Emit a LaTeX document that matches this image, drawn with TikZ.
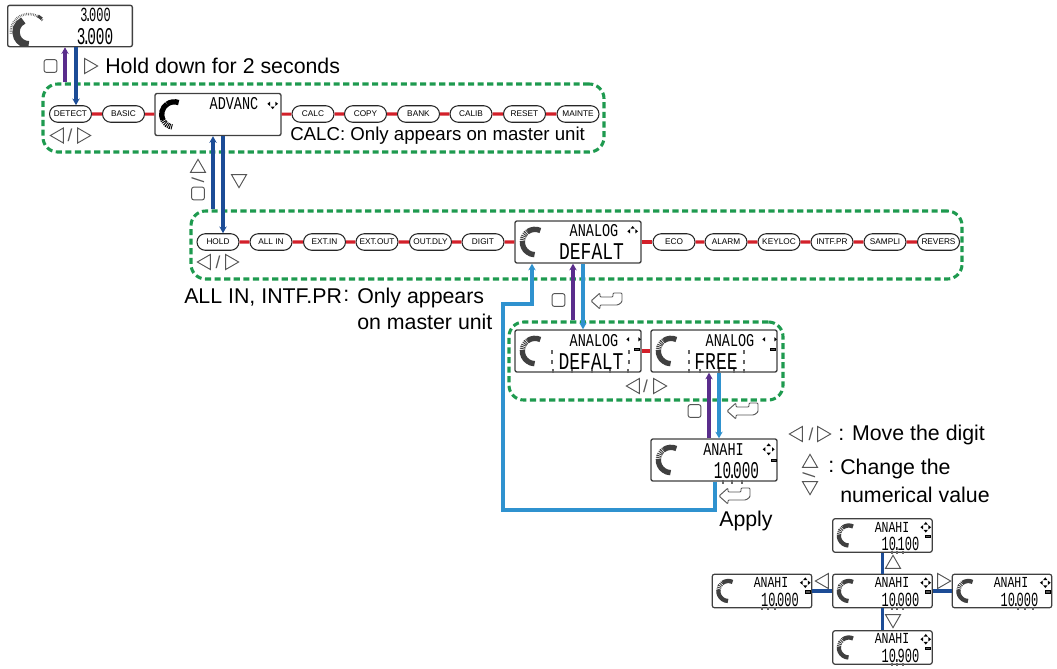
\documentclass[tikz,border=0pt]{standalone}
\usepackage{fontspec}
\setmainfont{Liberation Sans}
\newfontfamily\lcdfont[FakeStretch=0.75]{Liberation Mono}
\newfontfamily\lcdtall[FakeStretch=0.6]{Liberation Mono}
\usetikzlibrary{shapes.geometric, shapes.misc, arrows.meta, calc}
\definecolor{SMC_Green}{HTML}{1E9A4F}
\definecolor{SMC_Red}{HTML}{D3202A}
\definecolor{SMC_Violet}{HTML}{5A2D8C}
\definecolor{SMC_Navy}{HTML}{1C4C96}
\definecolor{SMC_Sky}{HTML}{2F92CF}
\definecolor{SMC_Key}{HTML}{555555}
\newcommand{\lcdp}{\kern-.14em.\kern-.14em}
\newcommand{\lcdarc}[3]{%
    \coordinate (arcc) at ($(path picture bounding box.west)+(#1,0)$);
    \draw[line width=#3] (arcc) ++(65:#2) arc (65:125:#2);
    \draw[line width=#3, dash pattern=on .7pt off .7pt] (arcc) ++(125:#2) arc (125:175:#2);
    \draw[line width=#3] (arcc) ++(175:#2) arc (175:268:#2);}
\newcommand{\navmark}[4]{%
    \foreach \a in {#2} \fill[shift={($(#1.north east)+#4$)}, rotate=\a, xshift=#3] (2pt,0pt) -- (0pt,1.6pt) -- (0pt,-1.6pt) -- cycle;}
\newcommand{\battmark}[2]{\draw[line width=.4pt, fill=SMC_Key] ($(#1.north east)+#2+(-2.5,-1.2)$) rectangle ($(#1.north east)+#2+(2.5,1.2)$);}
\begin{document}
\begin{tikzpicture}[
    x=0.75pt, y=-0.75pt,
    groupbox/.style={draw=SMC_Green, line width=2.3pt, dash pattern=on 4.6pt off 2.6pt, rounded corners=11pt, inner sep=0pt},
    menu/.style={rounded rectangle, draw=black!85, line width=0.8pt, fill=white, minimum width=31.5pt, minimum height=12.4pt, inner sep=0pt, font=\fontsize{6.2}{7}\selectfont},
    lcd/.style={rectangle, draw=black!75, line width=1pt, fill=white, rounded corners=1.5pt, minimum width=94.5pt, minimum height=31.5pt, inner sep=0pt, path picture={\lcdarc{20}{9.5pt}{4pt}}},
    lcdsmall/.style={rectangle, draw=black!75, line width=0.9pt, fill=white, rounded corners=1.5pt, minimum width=74.5pt, minimum height=25pt, inner sep=0pt, path picture={\lcdarc{16}{7.5pt}{3.2pt}}},
    lcdgauge/.style={rectangle, draw=black!75, line width=1pt, fill=white, rounded corners=1.5pt, minimum width=93.5pt, minimum height=31pt, inner sep=0pt, path picture={
        \coordinate (gc) at ($(path picture bounding box.west)+(21,6)$);
        \draw[line width=1.8pt, dash pattern=on .5pt off .8pt, black!60] (gc) ++(40:13.5pt) arc (40:185:13.5pt);
        \draw[line width=2.2pt] (gc) ++(45:14pt) arc (45:60:14pt);
        \draw[line width=5.5pt] (gc) ++(115:9.5pt) arc (115:270:9.5pt);}},
    lcdtop/.style={inner sep=0pt, font=\lcdfont\fontsize{13.5}{14}\selectfont},
    lcdlow/.style={inner sep=0pt, font=\lcdfont\fontsize{18}{19}\selectfont},
    lcdmid/.style={inner sep=0pt, font=\lcdtall\fontsize{18}{19}\selectfont},
    lcdsmtop/.style={inner sep=0pt, font=\lcdfont\fontsize{11.5}{12}\selectfont},
    lcdsmlow/.style={inner sep=0pt, font=\lcdtall\fontsize{15}{16}\selectfont},
    say/.style={anchor=west, inner sep=0pt, font=\fontsize{16}{19}\selectfont},
    saysmall/.style={anchor=west, inner sep=0pt, font=\fontsize{14}{17}\selectfont},
    keybtn/.style={rectangle, draw=SMC_Key, line width=0.7pt, fill=white, rounded corners=1.5pt, minimum size=9.5pt, inner sep=0pt},
    keytri/.style={regular polygon, regular polygon sides=3, draw=SMC_Key, line width=0.7pt, fill=white, minimum size=13pt, inner sep=0pt},
    keyup/.style={keytri},
    keydown/.style={keytri, shape border rotate=180},
    keyleft/.style={keytri, shape border rotate=90},
    keyright/.style={keytri, shape border rotate=270},
    keysep/.style={inner sep=0pt, text=SMC_Key, font=\fontsize{13}{14}\selectfont},
    redlink/.style={draw=SMC_Red, line width=2.3pt},
    navylink/.style={draw=SMC_Navy, line width=2.3pt},
    tipped/.style={-{Stealth[length=5pt,width=5.5pt]}, line width=2.3pt},
    upviolet/.style={tipped, draw=SMC_Violet},
    upnavy/.style={tipped, draw=SMC_Navy},
    upsky/.style={tipped, draw=SMC_Sky},
    blink/.style={draw=black!60, line width=1pt},
    pics/enterkey/.style={code={
        \draw[draw=SMC_Key, line width=0.7pt, fill=white, rounded corners=0.8pt] (0,0) -- (9,-8) -- (9,-4) -- (22,-4) -- (22,-8) -- (31,-8) -- (31,1) -- (27,4) -- (9,4) -- (9,8) -- cycle;}}
]
\useasboundingbox (0,0) rectangle (1057,668);

\node[groupbox, minimum width=420.75pt, minimum height=51pt] (advgroup) at (323.5,118) {};
\node[groupbox, minimum width=578.25pt, minimum height=51pt] (funcgroup) at (576.5,245) {};
\node[groupbox, minimum width=205.5pt, minimum height=58.5pt] (outgroup) at (646,361) {};

\node[lcdgauge] (measure) at (70,26) {};
\node[inner sep=0pt, font=\lcdtall\fontsize{15}{16}\selectfont] (measuretop) at (95.5,15) {3\lcdp000};
\node[lcdmid] (measurelow) at (95,36.5) {3\lcdp000};

\node[menu] (detect) at (70.5,114) {DETECT};
\node[menu] (basic) at (123.5,114) {BASIC};
\node[lcd, path picture={}] (advance) at (218,114.5) {};
\node[menu] (calc) at (313,114) {CALC};
\node[menu] (copy) at (365.5,114) {COPY};
\node[menu] (bank) at (418.5,114) {BANK};
\node[menu] (calib) at (471,114) {CALIB};
\node[menu] (reset) at (524.5,114) {RESET};
\node[menu] (mainte) at (578,114) {MAINTE};
\node[lcdtop] (advancetop) at (234,104) {ADVANC};

\node[menu] (hold) at (218,242) {HOLD};
\node[menu] (allin) at (271,242) {ALL IN};
\node[menu] (extin) at (324.5,242) {EXT.IN};
\node[menu] (extout) at (377,242) {EXT.OUT};
\node[menu] (outdly) at (430.5,242) {OUT.DLY};
\node[menu] (digit) at (483,242) {DIGIT};
\node[lcd] (analog) at (578,242) {};
\node[menu] (eco) at (674,242) {ECO};
\node[menu] (alarm) at (726,242) {ALARM};
\node[menu] (keyloc) at (779,242) {KEYLOC};
\node[menu] (intfpr) at (832,242) {INTF.PR};
\node[menu] (sampli) at (885,242) {SAMPLI};
\node[menu] (revers) at (938.5,242) {REVERS};
\node[lcdtop] (analogtop) at (594,231) {ANALOG};
\node[lcdlow] (analoglow) at (591.5,252) {DEFALT};

\node[lcd] (outdef) at (578,351) {};
\node[lcd] (outfree) at (714,351) {};
\node[lcdtop] (outdeftop) at (594,341) {ANALOG};
\node[lcdlow] (outdeflow) at (591,361.5) {DEFALT};
\node[lcdtop] (outfreetop) at (730,341) {ANALOG};
\node[lcdlow] (outfreelow) at (716,361.5) {FREE};

\node[lcd] (anahi) at (714,460) {};
\node[lcdtop] (anahitop) at (723.5,449.5) {ANAHI};
\node[lcdmid] (anahilow) at (736.5,471) {10\lcdp000};

\node[lcdsmall] (setup) at (882.5,535.5) {};
\node[lcdsmtop] (setuptop) at (892,527.5) {ANAHI};
\node[lcdsmlow] (setuplow) at (900.5,544) {10\lcdp100};
\node[lcdsmall] (setleft) at (762,591) {};
\node[lcdsmtop] (setlefttop) at (771,582) {ANAHI};
\node[lcdsmlow] (setleftlow) at (780,600) {10\lcdp000};
\node[lcdsmall] (setmid) at (882.5,591) {};
\node[lcdsmtop] (setmidtop) at (892,582) {ANAHI};
\node[lcdsmlow] (setmidlow) at (900.5,600) {10\lcdp000};
\node[lcdsmall] (setright) at (1002,591) {};
\node[lcdsmtop] (setrighttop) at (1011,582) {ANAHI};
\node[lcdsmlow] (setrightlow) at (1019.5,600) {10\lcdp000};
\node[lcdsmall] (setdown) at (882.5,647.5) {};
\node[lcdsmtop] (setdowntop) at (892,638.5) {ANAHI};
\node[lcdsmlow] (setdownlow) at (900.5,656) {10\lcdp900};

\coordinate (arcadv) at ($(advance.west)+(20,0)$);
\draw[line width=4pt] (arcadv) ++(70:9.5pt) arc (70:125:9.5pt);
\draw[line width=4pt] (arcadv) ++(125:9.5pt) arc (125:205:9.5pt);
\draw[line width=4pt, dash pattern=on .7pt off .7pt] (arcadv) ++(205:9.5pt) arc (205:262:9.5pt);

\navmark{advance}{0,180,270}{2pt}{(-9,11)}
\navmark{analog}{0,90,180}{2pt}{(-9,11)}
\navmark{outdef}{0,180}{3.5pt}{(-8,10)}
\navmark{outfree}{0,180}{3.5pt}{(-8,10)}
\navmark{anahi}{0,90,180,270}{2.5pt}{(-9,11)}
\navmark{setup}{0,90,180,270}{2pt}{(-7,9)}
\navmark{setleft}{0,90,180,270}{2pt}{(-7,9)}
\navmark{setmid}{0,90,180,270}{2pt}{(-7,9)}
\navmark{setright}{0,90,180,270}{2pt}{(-7,9)}
\navmark{setdown}{0,90,180,270}{2pt}{(-7,9)}
\battmark{outdef}{(-5,20)}
\battmark{outfree}{(-5,20)}
\battmark{anahi}{(-4,22)}
\battmark{setup}{(-5,18)}
\battmark{setleft}{(-5,18)}
\battmark{setmid}{(-5,18)}
\battmark{setright}{(-5,18)}
\battmark{setdown}{(-5,18)}

\foreach \bx in {553,572,592,610,628} \draw[blink] (\bx,369) -- (\bx,373);
\foreach \bx in {689,700,719,734,744} \draw[blink] (\bx,369) -- (\bx,373);
\foreach \bx in {552,629,689,744} {
    \draw[blink] (\bx,350) -- (\bx,354);
    \draw[blink] (\bx,360) -- (\bx,364);
}
\foreach \bx in {723,732,742} \draw[blink] (\bx,480) -- (\bx,484);
\foreach \bx in {892,897,903} {
    \draw[blink] (\bx,551) -- (\bx,554);
    \draw[blink] (\bx,607) -- (\bx,610);
    \draw[blink] (\bx,663) -- (\bx,666);
}
\foreach \bx in {762,768,775,1018,1025,1033} \draw[blink] (\bx,607) -- (\bx,610);

\foreach \a/\b in {detect/basic, basic/advance, advance/calc, calc/copy, copy/bank, bank/calib, calib/reset, reset/mainte, hold/allin, allin/extin, extin/extout, extout/outdly, outdly/digit, digit/analog, analog/eco, eco/alarm, alarm/keyloc, keyloc/intfpr, intfpr/sampli, sampli/revers, outdef/outfree} {
    \draw[redlink] (\a) -- (\b);
}

\coordinate (xa) at (65,0);
\coordinate (xb) at (76,0);
\coordinate (xc) at (213,0);
\coordinate (xd) at (223,0);
\coordinate (xe) at (573,0);
\coordinate (xf) at (583,0);
\coordinate (xg) at (709,0);
\coordinate (xh) at (719,0);
\coordinate (xi) at (715,0);
\coordinate (xj) at (532,0);
\coordinate (ret1) at (503,510);
\coordinate (ret2) at (503,304);

\draw[upviolet] (xa |- advgroup.north) -- (xa |- measure.south);
\draw[upnavy] (xb |- measure.south) -- (xb |- detect.north);
\draw[upnavy] (xc |- funcgroup.north) -- (xc |- advance.south);
\draw[upnavy] (xd |- advance.south) -- (xd |- hold.north);
\draw[upviolet] (xe |- outgroup.north) -- (xe |- analog.south);
\draw[upsky] (xf |- analog.south) -- (xf |- outdef.north);
\draw[upviolet] (xg |- anahi.north) -- (xg |- outfree.south);
\draw[upsky] (xh |- outfree.south) -- (xh |- anahi.north);
\draw[upsky] (xi |- anahi.south) |- (ret1) -- (ret2) -| (xj |- analog.south);

\draw[navylink] (setup) -- (setmid);
\draw[navylink] (setmid) -- (setdown);
\draw[navylink] (setleft) -- (setmid);
\draw[navylink] (setmid) -- (setright);

\node[keybtn] (keytopset) at (50.5,66) {};
\node[keyright] (keytopright) at (89,66) {};
\node[say] (holdtext) at (105,66) {Hold down for 2 seconds};

\node[keyleft] (keyadvl) at (59,135.5) {};
\node[keysep] (sepadv) at (70,135.5) {/};
\node[keyright] (keyadvr) at (82,135.5) {};
\node[saysmall] (calcnote) at (290,136) {CALC: Only appears on master unit};

\node[keyup] (keyfuncup) at (198,168) {};
\node[keysep, rotate=-93] (sepfunc) at (198,180) {/};
\node[keybtn] (keyfuncset) at (198,193.5) {};
\node[keydown] (keyfuncdown) at (239,179) {};

\node[keyleft] (keyrowl) at (206,262) {};
\node[keysep] (seprow) at (218,262) {/};
\node[keyright] (keyrowr) at (230,262) {};
\node[say] (allinnote) at (184,298) {ALL IN, INTF.PR};
\node[say] (allincolon) at (343,296) {:};
\node[say] (onlynote) at (357,298) {Only appears};
\node[say] (onlynoteb) at (357,322) {on master unit};

\node[keybtn] (keyoutset) at (558.5,300) {};
\path (591,301) pic {enterkey};
\node[keyleft] (keyoutl) at (635,386) {};
\node[keysep] (sepout) at (645.5,386) {/};
\node[keyright] (keyoutr) at (658,386) {};
\node[keybtn] (keyfreeset) at (694.5,411) {};
\path (727,411) pic {enterkey};
\path (719,496) pic {enterkey};
\node[say] (applytext) at (719,521) {Apply};

\node[keyleft] (keymovel) at (798,434) {};
\node[keysep] (sepmove) at (811,434) {/};
\node[keyright] (keymover) at (822,434) {};
\node[say] (movetext) at (838,435) {: Move the digit};
\node[keyup] (keychgup) at (810,463) {};
\node[keysep, rotate=-93] (sepchg) at (809,475) {/};
\node[keydown] (keychgdown) at (810,486) {};
\node[say] (chgcolon) at (828,467) {:};
\node[say] (chgtext) at (840,469) {Change the};
\node[say] (chgtextb) at (840,495) {numerical value};

\node[keyup] (keysetup) at (893,564) {};
\node[keydown] (keysetdown) at (893,619) {};
\node[keyleft] (keysetleft) at (824,581) {};
\node[keyright] (keysetright) at (942,581) {};
\end{tikzpicture}
\end{document}
